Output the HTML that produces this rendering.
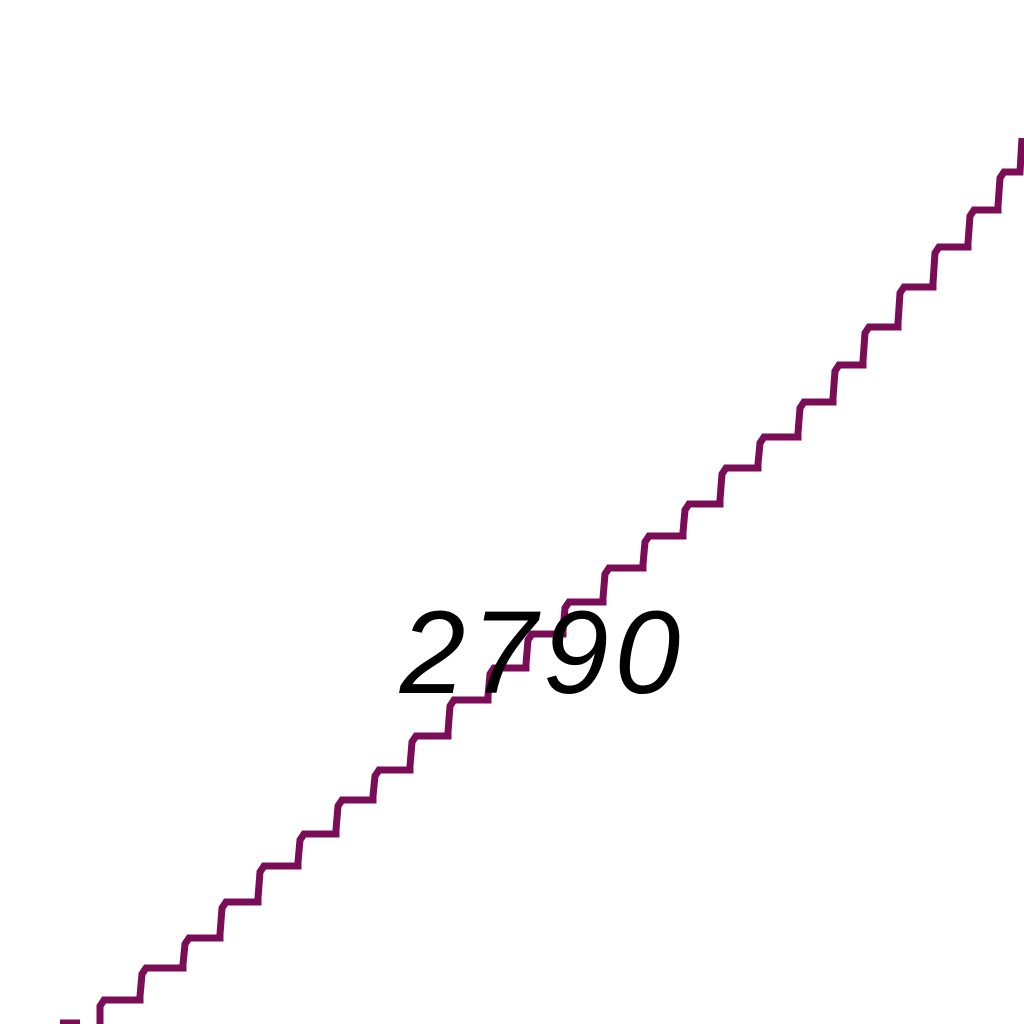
<!DOCTYPE html>
<html><head><meta charset="utf-8"><style>
html,body{margin:0;padding:0;background:#fff;width:1024px;height:1024px;overflow:hidden}
svg{display:block}
</style></head><body>
<svg id="chart" width="1024" height="1024" viewBox="0 0 1024 1024" xmlns="http://www.w3.org/2000/svg">
<rect width="1024" height="1024" fill="#fff"/>
<g id="lines"></g>
<text x="543" y="693" text-anchor="middle" font-family="Liberation Sans, sans-serif" font-style="italic" font-size="118" letter-spacing="6" fill="#000">2790</text>
</svg>
<script>
// contour level and its step vertices
const levels = [2790];
const stepX = [100,142,185,222,260,300,338,375,412,450,490,528,565,605,645,685,722,760,800,835,865,900,935,970,1000];
const stepY = [1000,968,938,902,866,834,800,770,736,700,668,634,602,568,536,504,468,437,402,365,327,287,247,210,172];
const lineEnd = [1022, 138];

const g = document.getElementById('lines');
let d = `M ${stepX[0]} 1024`;
for (let i = 0; i < stepX.length; i++) {
  const x = stepX[i], y = stepY[i];
  const xn = i + 1 < stepX.length ? stepX[i + 1] : lineEnd[0];
  d += ` L ${x} ${y + 6} L ${x + 4} ${y} L ${xn - 2} ${y}`;
  if (i + 1 < stepX.length) d += ` L ${xn - 2} ${y - 4}`;
}
d += ` L ${lineEnd[0]} ${lineEnd[1]}`;
const p = document.createElementNS('http://www.w3.org/2000/svg', 'path');
p.setAttribute('d', d);
p.setAttribute('fill', 'none');
p.setAttribute('stroke', '#7a0c58');
p.setAttribute('stroke-width', '7');


g.appendChild(p);

const s = document.createElementNS('http://www.w3.org/2000/svg', 'line');
s.setAttribute('x1', 60); s.setAttribute('y1', 1022);
s.setAttribute('x2', 80); s.setAttribute('y2', 1022);
s.setAttribute('stroke', '#7a0c58');
s.setAttribute('stroke-width', '5');


g.appendChild(s);
</script>
</body></html>
